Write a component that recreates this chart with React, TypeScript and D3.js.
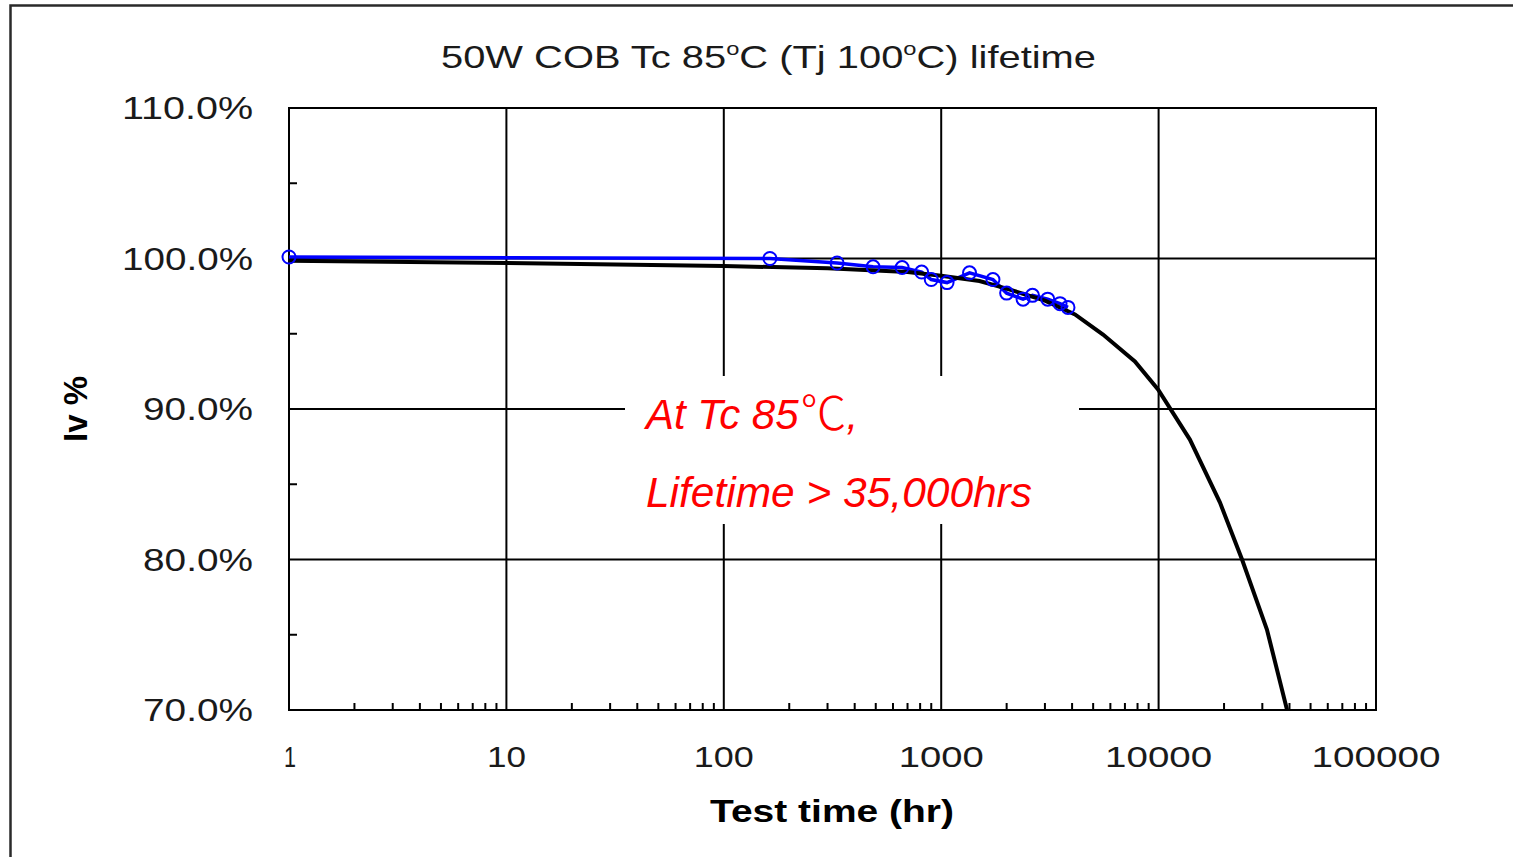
import React from "react";
import * as d3 from "d3";

const W = 1513;
const H = 857;

const yTicks = [70, 80, 90, 100, 110];
const yTickLabels = ["70.0%", "80.0%", "90.0%", "100.0%", "110.0%"];
const yMinor = [75, 85, 95, 105];
const xTicks = [1, 10, 100, 1000, 10000, 100000];
const xTickLabels = ["1", "10", "100", "1000", "10000", "100000"];

// measured data (hours, Iv %)
const measuredT = [1, 163, 332, 486, 661, 813, 900, 1064, 1350, 1730, 2000, 2380, 2630, 3090, 3520, 3830];
const measuredV = [100.1, 100.0, 99.7, 99.45, 99.4, 99.1, 98.6, 98.4, 99.05, 98.6, 97.7, 97.3, 97.55, 97.3, 97.0, 96.75];

// fitted / projected curve (hours, Iv %)
const fitT = [1, 10, 100, 300, 700, 1000, 1500, 2000, 3000, 4125, 5550, 7780, 9940, 13930, 19140, 24200, 31500, 38990];
const fitV = [99.85, 99.7, 99.5, 99.35, 99.1, 98.85, 98.5, 98.0, 97.2, 96.28, 94.95, 93.16, 91.3, 87.97, 83.8, 80.0, 75.35, 70.0];

const titleText = "50W COB Tc 85";
const xTitle = "Test time (hr)";
const yTitle = "Iv %";
const note1 = "At Tc 85";
const note2 = "Lifetime > 35,000hrs";

const FONT = "'Liberation Sans', Arial, Helvetica, sans-serif";
const TXT = "#1a1a1a";

export default function App() {
  const x = d3.scaleLog().domain([1, 100000]).range([289, 1376]);
  const y = d3.scaleLinear().domain([70, 110]).range([710, 108]);

  const xMinor: number[] = [];
  for (let d = 1; d < 100000; d *= 10) {
    for (let k = 2; k <= 9; k++) xMinor.push(d * k);
  }

  const line = d3
    .line<[number, number]>()
    .x((d) => x(d[0]))
    .y((d) => y(d[1]));

  const measured: [number, number][] = measuredT.map((t, i) => [t, measuredV[i]]);
  const fit: [number, number][] = fitT.map((t, i) => [t, fitV[i]]);

  const yLabelWidths: Record<string, number> = {
    "110.0%": 131,
    "100.0%": 131,
    "90.0%": 110,
    "80.0%": 110,
    "70.0%": 110,
  };
  const xLabelWidths = [12, 39, 60, 85, 107, 129];

  return (
    <svg
      width={W}
      height={H}
      style={{ position: "absolute", left: 0, top: 0, background: "#fff" }}
    >
      <rect x={0} y={0} width={W} height={H} fill="#fff" />
      {/* outer frame */}
      <path d={`M10.5,${H} V5.5 H${W}`} fill="none" stroke="#2a2a2a" strokeWidth={2.5} />

      {/* title */}
      <text
        x={441}
        y={68}
        fontFamily={FONT}
        fontSize={32}
        fill={TXT}
        textLength={655}
        lengthAdjust="spacingAndGlyphs"
      >
        {titleText}
        <tspan fontSize={19} dy={-13}>o</tspan>
        <tspan dy={13}>C (Tj 100</tspan>
        <tspan fontSize={19} dy={-13}>o</tspan>
        <tspan dy={13}>C) lifetime</tspan>
      </text>

      {/* gridlines */}
      {yTicks.map((v) => (
        <line key={"gy" + v} x1={289} x2={1376} y1={y(v)} y2={y(v)} stroke="#000" strokeWidth={2} />
      ))}
      {xTicks.map((t) => (
        <line key={"gx" + t} x1={x(t)} x2={x(t)} y1={108} y2={710} stroke="#000" strokeWidth={2} />
      ))}
      {/* minor ticks */}
      {yMinor.map((v) => (
        <line key={"my" + v} x1={289} x2={297} y1={y(v)} y2={y(v)} stroke="#000" strokeWidth={2} />
      ))}
      {xMinor.map((t) => (
        <line key={"mx" + t} x1={x(t)} x2={x(t)} y1={710} y2={703} stroke="#000" strokeWidth={2} />
      ))}
      {/* plot border */}
      <rect x={289} y={108} width={1087} height={602} fill="none" stroke="#000" strokeWidth={2} />

      {/* y tick labels */}
      {yTicks.map((v, i) => (
        <text
          key={"yl" + v}
          x={253 - yLabelWidths[yTickLabels[i]]}
          y={y(v) + 11}
          fontFamily={FONT}
          fontSize={32}
          fill={TXT}
          textLength={yLabelWidths[yTickLabels[i]]}
          lengthAdjust="spacingAndGlyphs"
        >
          {yTickLabels[i]}
        </text>
      ))}
      {/* x tick labels */}
      {xTicks.map((t, i) => (
        <text
          key={"xl" + t}
          x={x(t) - xLabelWidths[i] / 2 + (i === 0 ? 1 : 0)}
          y={767}
          fontFamily={FONT}
          fontSize={30}
          fill={TXT}
          textLength={xLabelWidths[i]}
          lengthAdjust="spacingAndGlyphs"
        >
          {xTickLabels[i]}
        </text>
      ))}

      {/* axis titles */}
      <text
        x={710}
        y={822}
        fontFamily={FONT}
        fontSize={32}
        fontWeight="bold"
        fill="#000"
        textLength={244}
        lengthAdjust="spacingAndGlyphs"
      >
        {xTitle}
      </text>
      <text
        transform="translate(87,442) rotate(-90)"
        x={0}
        y={0}
        fontFamily={FONT}
        fontSize={34}
        fontWeight="bold"
        fill="#000"
        textLength={66}
        lengthAdjust="spacingAndGlyphs"
      >
        {yTitle}
      </text>

      {/* data */}
      <path d={line(measured) || ""} fill="none" stroke="#0000ff" strokeWidth={3.5} />
      <path d={line(fit) || ""} fill="none" stroke="#000" strokeWidth={4} />
      {measured.map((d, i) => (
        <circle
          key={"c" + i}
          cx={x(d[0])}
          cy={y(d[1])}
          r={6.5}
          fill="none"
          stroke="#0000ff"
          strokeWidth={2}
        />
      ))}

      {/* annotation */}
      <rect x={625} y={376} width={454} height={148} fill="#fff" />
      <text
        x={646}
        y={429}
        fontFamily={FONT}
        fontSize={42}
        fontStyle="italic"
        fill="#ff0000"
      >
        {note1}
        <tspan fontFamily="'Noto Sans CJK SC', 'DejaVu Serif', serif" fontStyle="normal" fontWeight={300} fontSize={46} dx={2}>
          ℃
        </tspan>
        ,
      </text>
      <text
        x={646}
        y={507}
        fontFamily={FONT}
        fontSize={42}
        fontStyle="italic"
        fill="#ff0000"
        textLength={386}
        lengthAdjust="spacingAndGlyphs"
      >
        {note2}
      </text>
    </svg>
  );
}
